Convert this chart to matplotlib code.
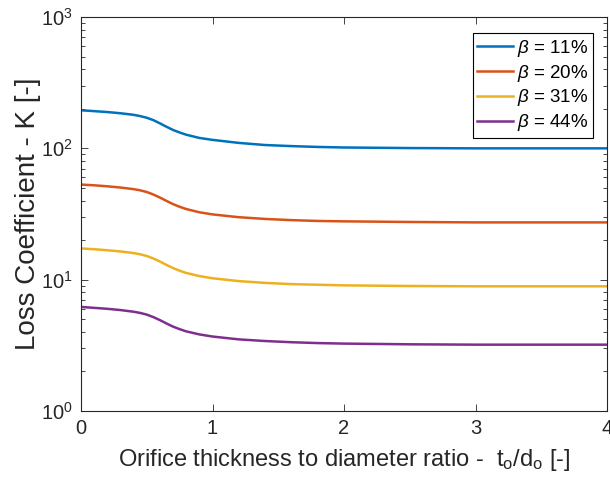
import numpy as np
import matplotlib
matplotlib.use("Agg")
import matplotlib.pyplot as plt
from matplotlib.ticker import LogLocator, NullFormatter

plt.rcParams['font.family'] = ['Liberation Sans', 'DejaVu Sans']
plt.rcParams['mathtext.fontset'] = 'custom'
plt.rcParams['mathtext.rm'] = 'Liberation Sans'
plt.rcParams['mathtext.it'] = 'Liberation Sans:italic'

# thickness ratio t_o/d_o
ratio = [0, 0.1, 0.2, 0.3, 0.4, 0.45, 0.5, 0.55, 0.6, 0.65, 0.7, 0.75, 0.8,
         0.9, 1.0, 1.2, 1.4, 1.6, 1.8, 2.0, 2.5, 3.0, 3.5, 4.0]

k_11 = [195, 192, 189, 185, 180, 176, 171, 164, 155, 146, 138, 132, 127,
        120, 116, 110, 106, 104, 102.5, 101.5, 100.5, 100, 100, 100]
k_20 = [53, 52.3, 51.4, 50.3, 48.9, 47.9, 46.5, 44.5, 42.2, 39.8, 37.6, 35.9, 34.5,
        32.6, 31.4, 29.9, 29.0, 28.4, 28.0, 27.8, 27.5, 27.3, 27.3, 27.3]
k_31 = [17.3, 17.05, 16.75, 16.4, 15.95, 15.6, 15.15, 14.5, 13.75, 12.95, 12.25, 11.7, 11.25,
        10.65, 10.25, 9.75, 9.45, 9.25, 9.15, 9.05, 8.95, 8.9, 8.9, 8.9]
k_44 = [6.2, 6.1, 6.0, 5.87, 5.7, 5.58, 5.42, 5.19, 4.92, 4.64, 4.39, 4.2, 4.04,
        3.83, 3.69, 3.51, 3.41, 3.34, 3.29, 3.26, 3.22, 3.2, 3.2, 3.2]

labels = [r'$\beta$ = 11%', r'$\beta$ = 20%', r'$\beta$ = 31%', r'$\beta$ = 44%']
colors = ['#0072BD', '#D95319', '#EDB120', '#7E2F8E']

fig = plt.figure(figsize=(6.1, 4.82), dpi=100)
ax = fig.add_axes([0.1328, 0.1473, 0.8623, 0.8174])

for k, lab, c in zip([k_11, k_20, k_31, k_44], labels, colors):
    ax.plot(ratio, k, color=c, lw=1.8, label=lab)

ax.set_yscale('log')
ax.set_xlim(0, 4)
ax.set_ylim(1, 1000)
ax.set_xticks([0, 1, 2, 3, 4])
ax.yaxis.set_major_locator(LogLocator(base=10, numticks=10))
ax.yaxis.set_minor_locator(LogLocator(base=10, subs=np.arange(2, 10), numticks=20))
ax.yaxis.set_minor_formatter(NullFormatter())

edge = '#262626'
for s in ax.spines.values():
    s.set_color(edge)
    s.set_linewidth(0.8)
ax.tick_params(which='both', direction='in', top=True, right=True,
               colors=edge, labelsize=14.5, width=0.6)
ax.tick_params(which='major', length=5, pad=6)
ax.tick_params(which='minor', length=3)

ax.set_xlabel(r'Orifice thickness to diameter ratio -  t$_{\rm o}$/d$_{\rm o}$ [-]',
              fontsize=17, color=edge, labelpad=6)
ax.set_ylabel('Loss Coefficient - K [-]', fontsize=20, color=edge, labelpad=0)

leg = ax.legend(loc='upper right', bbox_to_anchor=(0.973, 0.959), fontsize=13.5,
                fancybox=False, framealpha=1, edgecolor='black',
                handlelength=1.9, borderpad=0.25, labelspacing=0.2,
                handletextpad=0.2, borderaxespad=0)
leg.get_frame().set_linewidth(0.8)

fig.savefig('out.png', dpi=100)
